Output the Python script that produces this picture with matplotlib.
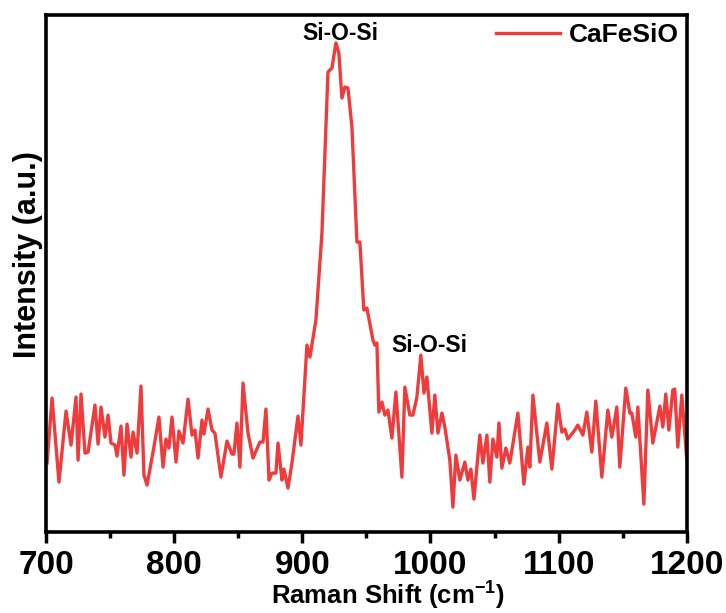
import numpy as np
import matplotlib
matplotlib.use("Agg")
import matplotlib.pyplot as plt
from matplotlib.ticker import MultipleLocator

plt.rcParams['font.family'] = ['Liberation Sans', 'DejaVu Sans']
plt.rcParams['font.weight'] = 'bold'
plt.rcParams['mathtext.fontset'] = 'custom'
plt.rcParams['mathtext.rm'] = 'Liberation Sans:bold'
plt.rcParams['mathtext.bf'] = 'Liberation Sans:bold'
plt.rcParams['mathtext.default'] = 'rm'

# Raman spectrum (arbitrary intensity units)
shift = [700.8, 704.7, 710.1, 715.6, 719.5, 723.4, 725.0, 727.3, 730.4, 732.8,
         738.2, 740.6, 742.9, 746.0, 748.4, 750.7, 753.8, 755.4, 758.5, 760.8,
         763.2, 766.3, 767.9, 771.0, 774.1, 776.4, 778.8, 784.2, 788.1, 791.3,
         793.6, 795.9, 798.3, 801.4, 803.7, 806.9, 810.8, 813.9, 816.2, 818.6,
         821.7, 823.2, 826.4, 829.5, 831.8, 836.5, 841.2, 845.1, 846.6, 849.0,
         851.3, 853.7, 857.6, 861.5, 866.9, 869.3, 871.6, 874.0, 876.3, 879.4,
         881.0, 884.1, 885.6, 888.8, 891.9, 896.6, 898.9, 903.6, 905.9, 910.6,
         915.3, 920.0, 923.1, 926.2, 928.5, 930.9, 933.2, 935.6, 938.7, 942.6,
         944.9, 948.0, 950.4, 955.1, 956.6, 958.2, 959.7, 962.1, 964.4, 966.8,
         969.9, 973.0, 977.7, 980.0, 983.9, 986.3, 989.4, 992.5, 994.9, 997.2,
         1001.1, 1003.4, 1005.8, 1008.9, 1011.2, 1015.1, 1017.5, 1019.8, 1022.9, 1026.8,
         1029.2, 1031.5, 1033.9, 1038.5, 1040.9, 1044.0, 1046.3, 1048.7, 1051.8, 1053.4,
         1055.7, 1058.8, 1061.9, 1068.2, 1072.9, 1076.0, 1077.5, 1079.9, 1085.3, 1090.8,
         1094.7, 1099.4, 1102.5, 1104.8, 1107.2, 1112.6, 1115.0, 1118.9, 1122.0, 1125.9,
         1129.0, 1133.7, 1138.4, 1141.5, 1145.4, 1147.7, 1152.4, 1155.6, 1157.1, 1160.2,
         1161.8, 1166.5, 1169.6, 1173.5, 1179.0, 1181.3, 1183.6, 1186.0, 1189.1, 1190.6,
         1193.0, 1196.1, 1200.0]
intensity = [69, 134, 50, 121, 87, 135, 72, 138, 79, 80,
             127, 88, 125, 95, 117, 89, 87, 76, 106, 57,
             108, 75, 100, 79, 146, 57, 47, 85, 115, 65,
             93, 84, 115, 70, 101, 89, 133, 97, 102, 74,
             112, 98, 123, 102, 99, 55, 91, 78, 78, 109,
             65, 149, 99, 74, 90, 90, 123, 52, 59, 59,
             89, 52, 63, 44, 69, 116, 87, 187, 175, 212,
             299, 460, 464, 489, 479, 434, 445, 444, 405, 290,
             290, 222, 224, 192, 187, 189, 120, 130, 117, 122,
             94, 140, 55, 145, 117, 117, 135, 177, 139, 155,
             99, 137, 99, 119, 105, 72, 25, 77, 52, 70,
             52, 63, 33, 97, 69, 97, 50, 93, 75, 109,
             64, 84, 69, 119, 48, 85, 65, 137, 70, 109,
             63, 128, 100, 103, 93, 102, 107, 97, 120, 80,
             131, 55, 122, 95, 125, 65, 144, 119, 119, 95,
             125, 28, 142, 89, 126, 105, 138, 102, 142, 143,
             85, 137, 72]

peak_labels = ["Si-O-Si", "Si-O-Si"]
peak_x = [930, 999]
peak_y = [499, 187]

fig = plt.figure(figsize=(7.26, 6.13), dpi=100)
ax = fig.add_axes([0.0634, 0.132, 0.8826, 0.8435])

ax.plot(shift, intensity, color='#EF3B3B', lw=2.4, label='CaFeSiO')

for lab, x, y in zip(peak_labels, peak_x, peak_y):
    ax.text(x, y, lab, ha='center', va='center', fontsize=16.5, fontweight='bold')

ax.set_xlim(700, 1200)
ax.set_ylim(0, 517)
ax.xaxis.set_major_locator(MultipleLocator(100))
ax.xaxis.set_minor_locator(MultipleLocator(50))
ax.set_yticks([])
ax.tick_params(axis='x', which='major', length=8, width=2.5, labelsize=24, pad=5)
ax.tick_params(axis='x', which='minor', length=4, width=2.5)
for sp in ax.spines.values():
    sp.set_linewidth(2.6)

ax.set_xlabel('Raman Shift (cm$^{-1}$)', fontsize=18.5, fontweight='bold', va='bottom')
ax.xaxis.set_label_coords(0.534, -0.1545)
ax.set_ylabel('Intensity (a.u.)', fontsize=22, fontweight='bold')
ax.yaxis.set_label_coords(-0.005, 0.536)

ax.legend(loc='upper right', frameon=False, fontsize=19, handlelength=2.4,
          borderaxespad=0.1, borderpad=0.2, handletextpad=0.35)

fig.savefig('out.png', dpi=100)
